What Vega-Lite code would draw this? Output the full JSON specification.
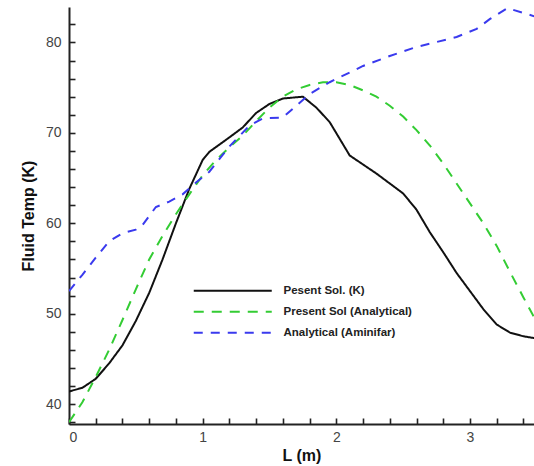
{
  "$schema": "https://vega.github.io/schema/vega-lite/v6.json",
  "width": 465,
  "height": 417,
  "autosize": {"type": "none"},
  "padding": {"left": 69, "top": 7, "right": 0, "bottom": 42},
  "background": "white",
  "config": {
    "view": {"stroke": null},
    "font": "Liberation Sans",
    "axis": {"grid": false, "domainColor": "#222", "domainWidth": 2, "labelColor": "#444", "labelFont": "Liberation Sans", "labelFontSize": 14, "titleFont": "Liberation Sans", "titleFontSize": 16, "titleFontWeight": "bold", "titleColor": "#111"}
  },
  "data": {"values": [
    {"L": 0.0, "T": 41.4, "s": "Pesent Sol. (K)"},
    {"L": 0.1, "T": 41.8, "s": "Pesent Sol. (K)"},
    {"L": 0.2, "T": 42.8, "s": "Pesent Sol. (K)"},
    {"L": 0.3, "T": 44.5, "s": "Pesent Sol. (K)"},
    {"L": 0.4, "T": 46.5, "s": "Pesent Sol. (K)"},
    {"L": 0.5, "T": 49.2, "s": "Pesent Sol. (K)"},
    {"L": 0.6, "T": 52.3, "s": "Pesent Sol. (K)"},
    {"L": 0.7, "T": 56.0, "s": "Pesent Sol. (K)"},
    {"L": 0.8, "T": 60.0, "s": "Pesent Sol. (K)"},
    {"L": 0.9, "T": 63.8, "s": "Pesent Sol. (K)"},
    {"L": 1.0, "T": 67.0, "s": "Pesent Sol. (K)"},
    {"L": 1.05, "T": 67.9, "s": "Pesent Sol. (K)"},
    {"L": 1.2, "T": 69.5, "s": "Pesent Sol. (K)"},
    {"L": 1.3, "T": 70.6, "s": "Pesent Sol. (K)"},
    {"L": 1.4, "T": 72.2, "s": "Pesent Sol. (K)"},
    {"L": 1.5, "T": 73.2, "s": "Pesent Sol. (K)"},
    {"L": 1.6, "T": 73.8, "s": "Pesent Sol. (K)"},
    {"L": 1.75, "T": 74.0, "s": "Pesent Sol. (K)"},
    {"L": 1.85, "T": 72.8, "s": "Pesent Sol. (K)"},
    {"L": 1.95, "T": 71.2, "s": "Pesent Sol. (K)"},
    {"L": 2.1, "T": 67.5, "s": "Pesent Sol. (K)"},
    {"L": 2.3, "T": 65.5, "s": "Pesent Sol. (K)"},
    {"L": 2.5, "T": 63.3, "s": "Pesent Sol. (K)"},
    {"L": 2.6, "T": 61.5, "s": "Pesent Sol. (K)"},
    {"L": 2.7, "T": 59.0, "s": "Pesent Sol. (K)"},
    {"L": 2.8, "T": 56.8, "s": "Pesent Sol. (K)"},
    {"L": 2.9, "T": 54.5, "s": "Pesent Sol. (K)"},
    {"L": 3.0, "T": 52.5, "s": "Pesent Sol. (K)"},
    {"L": 3.1, "T": 50.5, "s": "Pesent Sol. (K)"},
    {"L": 3.2, "T": 48.8, "s": "Pesent Sol. (K)"},
    {"L": 3.3, "T": 47.9, "s": "Pesent Sol. (K)"},
    {"L": 3.4, "T": 47.5, "s": "Pesent Sol. (K)"},
    {"L": 3.48, "T": 47.3, "s": "Pesent Sol. (K)"},
    {"L": 0.0, "T": 38.0, "s": "Present Sol (Analytical)"},
    {"L": 0.1, "T": 40.2, "s": "Present Sol (Analytical)"},
    {"L": 0.2, "T": 43.0, "s": "Present Sol (Analytical)"},
    {"L": 0.3, "T": 46.0, "s": "Present Sol (Analytical)"},
    {"L": 0.4, "T": 49.3, "s": "Present Sol (Analytical)"},
    {"L": 0.5, "T": 52.7, "s": "Present Sol (Analytical)"},
    {"L": 0.6, "T": 56.0, "s": "Present Sol (Analytical)"},
    {"L": 0.7, "T": 58.6, "s": "Present Sol (Analytical)"},
    {"L": 0.8, "T": 61.0, "s": "Present Sol (Analytical)"},
    {"L": 0.9, "T": 63.2, "s": "Present Sol (Analytical)"},
    {"L": 1.0, "T": 65.3, "s": "Present Sol (Analytical)"},
    {"L": 1.1, "T": 67.0, "s": "Present Sol (Analytical)"},
    {"L": 1.2, "T": 68.4, "s": "Present Sol (Analytical)"},
    {"L": 1.3, "T": 69.7, "s": "Present Sol (Analytical)"},
    {"L": 1.4, "T": 71.3, "s": "Present Sol (Analytical)"},
    {"L": 1.5, "T": 72.8, "s": "Present Sol (Analytical)"},
    {"L": 1.6, "T": 74.0, "s": "Present Sol (Analytical)"},
    {"L": 1.7, "T": 74.8, "s": "Present Sol (Analytical)"},
    {"L": 1.8, "T": 75.3, "s": "Present Sol (Analytical)"},
    {"L": 1.9, "T": 75.6, "s": "Present Sol (Analytical)"},
    {"L": 2.0, "T": 75.6, "s": "Present Sol (Analytical)"},
    {"L": 2.1, "T": 75.3, "s": "Present Sol (Analytical)"},
    {"L": 2.2, "T": 74.7, "s": "Present Sol (Analytical)"},
    {"L": 2.3, "T": 74.0, "s": "Present Sol (Analytical)"},
    {"L": 2.4, "T": 73.0, "s": "Present Sol (Analytical)"},
    {"L": 2.5, "T": 71.8, "s": "Present Sol (Analytical)"},
    {"L": 2.6, "T": 70.3, "s": "Present Sol (Analytical)"},
    {"L": 2.7, "T": 68.6, "s": "Present Sol (Analytical)"},
    {"L": 2.8, "T": 66.6, "s": "Present Sol (Analytical)"},
    {"L": 2.9, "T": 64.4, "s": "Present Sol (Analytical)"},
    {"L": 3.0, "T": 62.2, "s": "Present Sol (Analytical)"},
    {"L": 3.1, "T": 60.0, "s": "Present Sol (Analytical)"},
    {"L": 3.2, "T": 57.5, "s": "Present Sol (Analytical)"},
    {"L": 3.3, "T": 54.6, "s": "Present Sol (Analytical)"},
    {"L": 3.4, "T": 51.8, "s": "Present Sol (Analytical)"},
    {"L": 3.48, "T": 49.6, "s": "Present Sol (Analytical)"},
    {"L": 0.0, "T": 52.5, "s": "Analytical (Aminifar)"},
    {"L": 0.1, "T": 54.3, "s": "Analytical (Aminifar)"},
    {"L": 0.2, "T": 56.2, "s": "Analytical (Aminifar)"},
    {"L": 0.3, "T": 58.0, "s": "Analytical (Aminifar)"},
    {"L": 0.4, "T": 58.9, "s": "Analytical (Aminifar)"},
    {"L": 0.5, "T": 59.3, "s": "Analytical (Aminifar)"},
    {"L": 0.55, "T": 59.8, "s": "Analytical (Aminifar)"},
    {"L": 0.65, "T": 61.8, "s": "Analytical (Aminifar)"},
    {"L": 0.75, "T": 62.4, "s": "Analytical (Aminifar)"},
    {"L": 0.85, "T": 63.2, "s": "Analytical (Aminifar)"},
    {"L": 0.95, "T": 64.5, "s": "Analytical (Aminifar)"},
    {"L": 1.05, "T": 65.7, "s": "Analytical (Aminifar)"},
    {"L": 1.2, "T": 68.5, "s": "Analytical (Aminifar)"},
    {"L": 1.35, "T": 70.8, "s": "Analytical (Aminifar)"},
    {"L": 1.45, "T": 71.6, "s": "Analytical (Aminifar)"},
    {"L": 1.6, "T": 71.7, "s": "Analytical (Aminifar)"},
    {"L": 1.7, "T": 73.0, "s": "Analytical (Aminifar)"},
    {"L": 1.8, "T": 74.3, "s": "Analytical (Aminifar)"},
    {"L": 1.95, "T": 75.6, "s": "Analytical (Aminifar)"},
    {"L": 2.2, "T": 77.4, "s": "Analytical (Aminifar)"},
    {"L": 2.4, "T": 78.5, "s": "Analytical (Aminifar)"},
    {"L": 2.6, "T": 79.5, "s": "Analytical (Aminifar)"},
    {"L": 2.9, "T": 80.6, "s": "Analytical (Aminifar)"},
    {"L": 3.05, "T": 81.5, "s": "Analytical (Aminifar)"},
    {"L": 3.15, "T": 82.6, "s": "Analytical (Aminifar)"},
    {"L": 3.28, "T": 83.8, "s": "Analytical (Aminifar)"},
    {"L": 3.48, "T": 82.9, "s": "Analytical (Aminifar)"}
  ]},
  "layer": [
    {
      "mark": {"type": "line", "strokeWidth": 2, "clip": true},
      "encoding": {
        "x": {"field": "L", "type": "quantitative", "scale": {"domain": [0, 3.479], "nice": false, "zero": false},
              "axis": {"values": [0, 1, 2, 3], "title": "L (m)", "orient": "bottom", "ticks": false, "labelPadding": 6, "titleY": 31, "titleBaseline": "middle"}},
        "y": {"field": "T", "type": "quantitative", "scale": {"domain": [37.8, 83.92], "nice": false, "zero": false},
              "axis": {"values": [40, 50, 60, 70, 80], "title": "Fluid Temp (K)", "orient": "left", "ticks": false, "labelPadding": 8, "titleX": -41, "titleBaseline": "middle"}},
        "color": {"field": "s", "type": "nominal", "sort": null,
                  "scale": {"domain": ["Pesent Sol. (K)", "Present Sol (Analytical)", "Analytical (Aminifar)"], "range": ["#111111", "#33cc33", "#3a3aee"]},
                  "legend": {"title": null, "orient": "none", "legendX": 121, "legendY": 278, "symbolType": "M -1 0 H 38", "symbolSize": 16, "symbolStrokeWidth": 2, "labelFont": "Liberation Sans", "labelFontSize": 11.5, "labelFontWeight": "bold", "labelColor": "#222", "labelOffset": 82, "rowPadding": 8, "padding": 0}},
        "strokeDash": {"field": "s", "type": "nominal", "sort": null,
                       "scale": {"domain": ["Pesent Sol. (K)", "Present Sol (Analytical)", "Analytical (Aminifar)"], "range": [[1, 0], [10, 8], [9, 8]]},
                       "legend": null}
      }
    },
    {
      "mark": {"type": "point", "opacity": 0},
      "encoding": {
        "x": {"field": "L", "type": "quantitative",
              "axis": {"values": [0, 0.2, 0.4, 0.6, 0.8, 1, 1.2, 1.4, 1.6, 1.8, 2, 2.2, 2.4, 2.6, 2.8, 3, 3.2, 3.4], "labels": false, "domain": false, "title": null, "orient": "top", "offset": -417, "tickSize": 6, "tickWidth": 1.6, "tickColor": "#222"}},
        "y": {"field": "T", "type": "quantitative",
              "axis": {"values": [38, 40, 42, 44, 46, 48, 50, 52, 54, 56, 58, 60, 62, 64, 66, 68, 70, 72, 74, 76, 78, 80, 82], "labels": false, "domain": false, "title": null, "orient": "right", "offset": -465, "tickSize": 6, "tickWidth": 1.6, "tickColor": "#222"}},
        "color": {"field": "s", "type": "nominal", "legend": null}
      }
    }
  ],
  "resolve": {"axis": {"x": "independent", "y": "independent"}}
}
